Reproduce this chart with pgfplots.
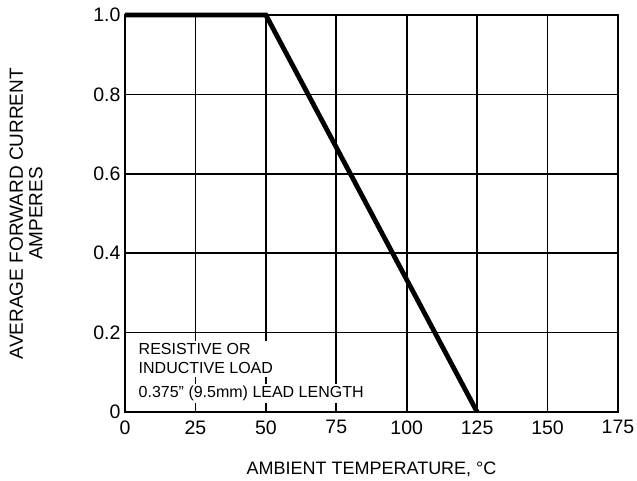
\documentclass[border=0pt]{standalone}
\usepackage{pgfplots}
\pgfplotsset{compat=1.18}
\usepackage{fontspec}
\setmainfont{Liberation Sans}

\begin{document}
\begin{tikzpicture}
  \begin{axis}[
    scale only axis,
    width=493pt, height=397pt,
    xmin=0, xmax=175,
    ymin=0, ymax=1,
    xtick={0,25,50,75,100,125,150,175},
    ytick={0,0.2,0.4,0.6,0.8,1.0},
    yticklabels={0,0.2,0.4,0.6,0.8,1.0},
    xticklabels={0,25,50,75,100,125,150,175},
    major tick length=0pt,
    grid=major,
    major grid style={black, line width=1.6pt},
    axis line style={black, line width=2.2pt},
    ticklabel style={font=\fontsize{19.5}{22}\selectfont},
    xticklabel style={yshift=-5pt},
    yticklabel style={xshift=-1pt},
    xlabel={AMBIENT TEMPERATURE, \textdegree C},
    xlabel style={font=\fontsize{18}{21}\selectfont, at={(axis description cs:0.5,0)}, anchor=base, yshift=-62pt},
    ylabel={AVERAGE FORWARD CURRENT\\AMPERES},
    ylabel style={font=\fontsize{19}{19.5}\selectfont, align=center, at={(axis description cs:0,0.5)}, anchor=center, yshift=99pt},
    clip=false,
  ]

  % derating curve
  \addplot [black, line width=4.8pt, line join=miter]
    coordinates {(0,1.0) (50,1.0) (125,0)};

  % note, each part on a white patch
  \node [fill=white, anchor=north west, inner xsep=4.5pt, inner ysep=3pt, align=left,
         font=\fontsize{16}{19}\selectfont]
    at (axis cs:3.2,0.18) {RESISTIVE OR\\INDUCTIVE LOAD};
  \node [fill=white, anchor=north west, inner xsep=4.5pt, inner ysep=2pt,
         font=\fontsize{16}{20}\selectfont]
    at (axis cs:3.2,0.072) {0.375\char"22{} (9.5mm) LEAD LENGTH};

  \end{axis}
  \pgfresetboundingbox
  \path (-125pt,-68pt) rectangle (512pt,412pt);
\end{tikzpicture}
\end{document}
